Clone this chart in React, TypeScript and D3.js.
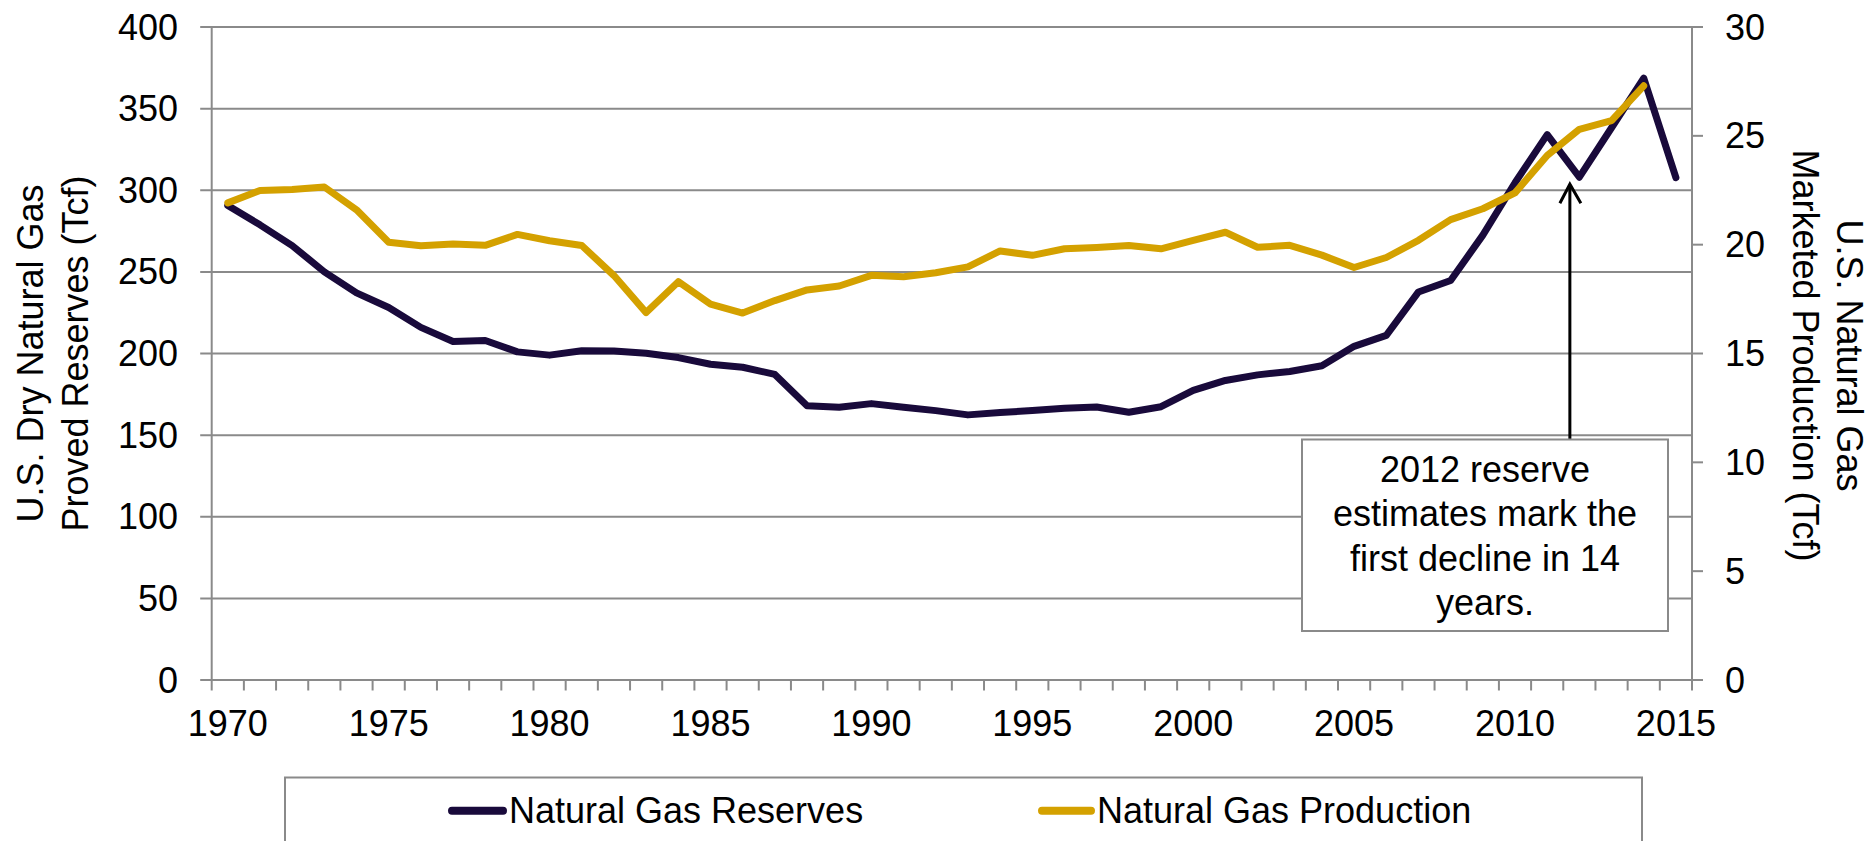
import React from "react";
import * as d3 from "d3";

const years = [
  1970, 1971, 1972, 1973, 1974, 1975, 1976, 1977, 1978, 1979,
  1980, 1981, 1982, 1983, 1984, 1985, 1986, 1987, 1988, 1989,
  1990, 1991, 1992, 1993, 1994, 1995, 1996, 1997, 1998, 1999,
  2000, 2001, 2002, 2003, 2004, 2005, 2006, 2007, 2008, 2009,
  2010, 2011, 2012, 2013, 2014, 2015,
];

// U.S. dry natural gas proved reserves (Tcf), 1970-2015
const reserves = [
  290.7, 278.8, 266.1, 250.0, 237.1, 228.2, 216.0, 207.4, 208.0, 201.0,
  199.0, 201.7, 201.5, 200.2, 197.5, 193.4, 191.6, 187.2, 168.0, 167.1,
  169.3, 167.1, 165.0, 162.4, 163.8, 165.1, 166.5, 167.2, 164.0, 167.4,
  177.4, 183.5, 186.9, 189.0, 192.5, 204.4, 211.1, 237.7, 244.7, 272.5,
  304.6, 334.1, 308.0, 338.3, 368.7, 307.7,
];

// U.S. natural gas marketed production (Tcf), 1970-2014
const production = [
  21.92, 22.49, 22.53, 22.65, 21.60, 20.11, 19.95, 20.03, 19.97, 20.47,
  20.18, 19.96, 18.58, 16.88, 18.30, 17.27, 16.86, 17.43, 17.92, 18.10,
  18.59, 18.53, 18.71, 18.98, 19.71, 19.51, 19.81, 19.87, 19.96, 19.81,
  20.20, 20.57, 19.88, 19.97, 19.52, 18.95, 19.41, 20.20, 21.15, 21.65,
  22.38, 24.10, 25.30, 25.70, 27.30,
];

const leftTicks = [0, 50, 100, 150, 200, 250, 300, 350, 400];
const rightTicks = [0, 5, 10, 15, 20, 25, 30];
const xTickLabels = [1970, 1975, 1980, 1985, 1990, 1995, 2000, 2005, 2010, 2015];

const leftTitle = ["U.S. Dry Natural Gas", "Proved Reserves (Tcf)"];
const rightTitle = ["U.S. Natural Gas", "Marketed Production (Tcf)"];
const annotationLines = ["2012 reserve", "estimates mark the", "first decline in 14", "years."];
const seriesNames = ["Natural Gas Reserves", "Natural Gas Production"];

const W = 1870;
const H = 841;
const FONT = "'Liberation Sans', Arial, Helvetica, sans-serif";
const FS = 36;
const GRID = "#8a8a8a";
const PURPLE = "#190a3b";
const GOLD = "#d4a100";

export default function App() {
  const left = 211.7;
  const right = 1692;
  const top = 27;
  const bottom = 680;

  const x = d3.scaleBand<number>().domain(years).range([left, right]).paddingInner(0).paddingOuter(0);
  const bw = x.bandwidth();
  const xc = (yr: number) => (x(yr) as number) + bw / 2;
  const yL = d3.scaleLinear().domain([0, 400]).range([bottom, top]);
  const yR = d3.scaleLinear().domain([0, 30]).range([bottom, top]);

  const resLine = d3
    .line<number>()
    .x((_, i) => xc(years[i]))
    .y((d) => yL(d));
  const prodLine = d3
    .line<number>()
    .x((_, i) => xc(years[i]))
    .y((d) => yR(d));

  const boundaries = years.map((yr) => x(yr) as number).concat([right]);

  const arrowX = xc(2012) - 9.5;
  const arrowTip = yL(reserves[years.indexOf(2012)]) + 7;
  const boxL = 1302, boxR = 1668, boxT = 439.5, boxB = 631;
  const boxCx = (boxL + boxR) / 2;

  const legL = 285, legR = 1642, legT = 777.5;

  return (
    <svg
      width={W}
      height={H}
      style={{ position: "absolute", left: 0, top: 0, background: "#fff" }}
      fontFamily={FONT}
    >
      <rect x={0} y={0} width={W} height={H} fill="#fff" />

      {/* gridlines + left ticks */}
      {leftTicks.map((t) => (
        <line key={"g" + t} x1={left - 11.5} x2={right} y1={yL(t)} y2={yL(t)} stroke={GRID} strokeWidth={2} />
      ))}
      {/* axes */}
      <line x1={left} x2={left} y1={top} y2={bottom} stroke={GRID} strokeWidth={2} />
      <line x1={right} x2={right} y1={top} y2={bottom} stroke={GRID} strokeWidth={2} />
      {rightTicks.map((t) => (
        <line key={"rt" + t} x1={right} x2={right + 11} y1={yR(t)} y2={yR(t)} stroke={GRID} strokeWidth={2} />
      ))}
      {boundaries.map((bx, i) => (
        <line key={"xt" + i} x1={bx} x2={bx} y1={bottom} y2={bottom + 10.5} stroke={GRID} strokeWidth={2} />
      ))}

      {/* left tick labels */}
      {leftTicks.map((t) => (
        <text key={"lt" + t} x={178} y={yL(t)} dy="0.35em" textAnchor="end" fontSize={FS} fill="#000">
          {t}
        </text>
      ))}
      {/* right tick labels */}
      {rightTicks.map((t) => (
        <text key={"rl" + t} x={1725} y={yR(t)} dy="0.35em" textAnchor="start" fontSize={FS} fill="#000">
          {t}
        </text>
      ))}
      {/* x tick labels */}
      {xTickLabels.map((yr) => (
        <text key={"xl" + yr} x={xc(yr)} y={736} textAnchor="middle" fontSize={FS} fill="#000">
          {yr}
        </text>
      ))}

      {/* axis titles */}
      {leftTitle.map((s, i) => (
        <text
          key={"lt-" + i}
          transform={`translate(${42.5 + i * 45},${(top + bottom) / 2}) rotate(-90)`}
          textAnchor="middle"
          fontSize={FS}
          fill="#000"
        >
          {s}
        </text>
      ))}
      {rightTitle.map((s, i) => (
        <text
          key={"rt-" + i}
          transform={`translate(${1837 - i * 44},${(top + bottom) / 2 + 2}) rotate(90)`}
          textAnchor="middle"
          fontSize={FS}
          fill="#000"
        >
          {s}
        </text>
      ))}

      {/* series */}
      <path d={resLine(reserves) || ""} fill="none" stroke={PURPLE} strokeWidth={7} strokeLinejoin="round" strokeLinecap="round" />
      <path d={prodLine(production) || ""} fill="none" stroke={GOLD} strokeWidth={7} strokeLinejoin="round" strokeLinecap="round" />

      {/* annotation */}
      <line x1={arrowX} x2={arrowX} y1={boxT} y2={arrowTip + 1} stroke="#000" strokeWidth={3} />
      <polyline
        points={`${arrowX - 10},${arrowTip + 19} ${arrowX},${arrowTip} ${arrowX + 11},${arrowTip + 19}`}
        fill="none"
        stroke="#000"
        strokeWidth={3}
      />
      <rect x={boxL} y={boxT} width={boxR - boxL} height={boxB - boxT} fill="#fff" stroke={GRID} strokeWidth={2} />
      {annotationLines.map((s, i) => (
        <text key={"an" + i} x={boxCx} y={481.5 + i * 44.5} textAnchor="middle" fontSize={FS} fill="#000">
          {s}
        </text>
      ))}

      {/* legend */}
      <rect x={legL} y={legT} width={legR - legL} height={120} fill="#fff" stroke={GRID} strokeWidth={2} />
      <line x1={452} x2={503} y1={810.7} y2={810.7} stroke={PURPLE} strokeWidth={8} strokeLinecap="round" />
      <text x={509} y={823.3} fontSize={FS} fill="#000">{seriesNames[0]}</text>
      <line x1={1042} x2={1091} y1={810.7} y2={810.7} stroke={GOLD} strokeWidth={8} strokeLinecap="round" />
      <text x={1097} y={823.3} fontSize={FS} fill="#000">{seriesNames[1]}</text>
    </svg>
  );
}
